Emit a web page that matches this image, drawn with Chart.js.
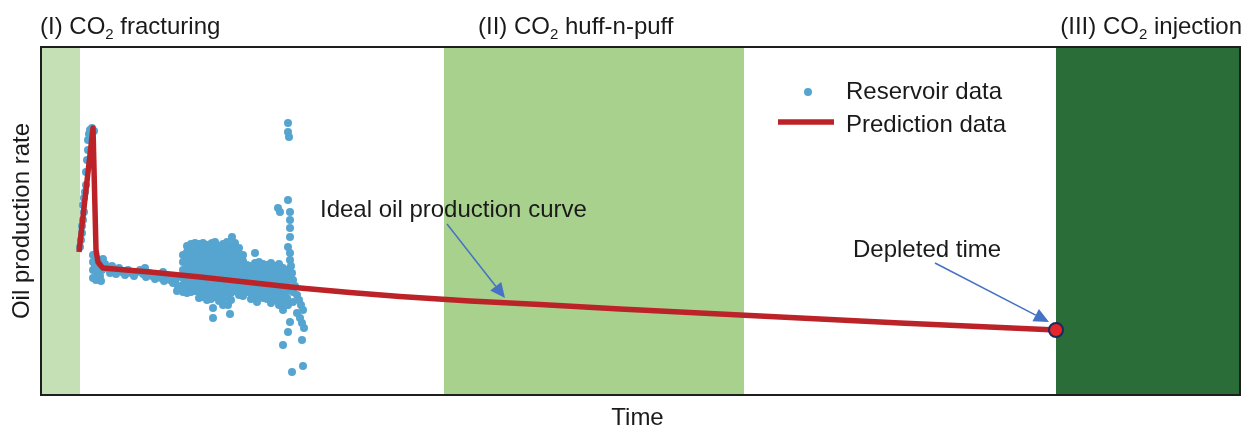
<!DOCTYPE html>
<html><head><meta charset="utf-8">
<script src="https://cdn.jsdelivr.net/npm/chart.js@4.4.1/dist/chart.umd.min.js"></script>
<style>html,body{margin:0;padding:0;background:#fff;}canvas{display:block;}</style>
</head><body>
<canvas id="c" width="1252" height="430"></canvas>
<script>
// ---- data (time units 0..1199, rate units 0..348) ----
const stageNames = [["(I) CO","2"," fracturing"],["(II) CO","2"," huff-n-puff"],["(III) CO","2"," injection"]];
const stageBands = [[0,39],[403,703],[1015,1199]];
const stageColors = ['#c5e0b4','#a9d18e','#2a6d39'];

const predictionTime = [38,52,55,57,60,62,85,109,134,159,209,259,309,359,429,499,579,659,759,859,937,1015];
const predictionRate = [143,267,145,133,129,127,125,123,120.5,118,112.5,107,102.5,98.5,94,90.5,86,82,77,72,68.5,65];

const depletedPoint = [1015,65];

const earlyPoints = [
 [39,148],[40,155],[41,162],[41,169],[42,175],[43,183],[42,190],[43,197],[44,203],[45,210],[45,223],[46,235],[47,245],[47,255],[48,261],[49,265],[51,267],[53,264],
 [52,140],[52,133],[52,125],[52,117],[54,129],[56,123],[58,133],[62,136],[64,131],[61,125],[59,119],[55,115],[60,114],
 [67,127],[69,122],[71,129],[72,125],[75,121],[78,127],[81,123],[84,120],[87,125],[90,122],[93,119],[96,123],[99,125],[102,121],[104,127],[105,118],[108,122],[111,119],[114,116],[117,120],[120,117],[122,123],[123,114],[126,118],[129,115],[132,112],[135,116],[137,109],[139,105],[136,104],[141,107]
];

const clusterColumns = [
 [142,[140,133,125,117,110,103]],
 [146,[149,143,136,129,122,115,108,102]],
 [150,[151,145,138,131,124,117,110,103]],
 [154,[152,146,139,132,125,118,111,104]],
 [158,[151,145,138,131,124,117,110,103,97]],
 [162,[152,146,139,132,125,118,111,104,98]],
 [166,[150,144,137,130,123,116,109,102,95]],
 [170,[151,145,138,131,124,117,110,103,96]],
 [174,[153,147,140,133,126,119,112,105,98]],
 [178,[149,143,136,129,122,115,108,101,94]],
 [182,[151,145,138,131,124,117,110,103,96,90]],
 [186,[153,147,140,133,126,119,112,105,98]],
 [190,[150,144,137,130,123,116,109,102,95]],
 [194,[152,146,139,132,125,118,111,104]],
 [198,[147,141,134,127,120,113,106,100]],
 [202,[140,134,127,120,113,106,99]],
 [206,[130,124,117,110,103]],
 [210,[129,123,116,109,102,96]],
 [214,[132,125,118,111,104,98]],
 [218,[133,127,120,113,106,99]],
 [222,[131,125,118,111,104,97]],
 [226,[130,124,117,110,103,96]],
 [230,[132,126,119,112,105,98,92]],
 [234,[129,123,116,109,102,95]],
 [238,[131,125,118,111,104,97,90]],
 [242,[127,120,113,106,99,92,85]],
 [246,[125,118,111,104,97,90]]
];

const spikePoints = [
 [247,272],[247,263],[248,258],[247,195],[237,187],[239,183],[249,183],[249,175],[249,167],[249,158],[247,148],[249,142],[249,135],[250,129],[251,122],[252,115],[254,109],[252,103],[256,100],[258,95],[260,90],[262,85],[256,82],[259,77],[261,72],[263,67],[249,73],[247,63],[261,55],[242,50],[262,29],[251,23],[252,93],[247,90],
 [172,87],[172,77],[187,90],[189,81],[216,93],[214,142],[191,158],[171,152]
];

// ---- build datasets ----
const reservoir = [];
earlyPoints.forEach(p => reservoir.push({x:p[0], y:p[1]}));
clusterColumns.forEach(c => c[1].forEach(v => reservoir.push({x:c[0], y:v})));
spikePoints.forEach(p => reservoir.push({x:p[0], y:p[1]}));
const prediction = predictionTime.map((t,i) => ({x:t, y:predictionRate[i]}));

const FONT = '"Liberation Sans", Arial, Helvetica, sans-serif';
const FS = 24;
const TXT = '#1a1a1a';
const BLUE = '#55a5d0';
const RED = '#bb2328';
const ARROW = '#4472c4';

function drawCO2(ctx, parts, x, y, align, size){
  ctx.font = size + 'px ' + FONT;
  const w1 = ctx.measureText(parts[0]).width;
  const w3 = ctx.measureText(parts[2]).width;
  ctx.font = Math.round(size*0.62) + 'px ' + FONT;
  const w2 = ctx.measureText(parts[1]).width;
  const total = w1 + w2 + w3;
  let sx = align === 'right' ? x - total : x;
  ctx.textAlign = 'left';
  ctx.textBaseline = 'alphabetic';
  ctx.fillStyle = TXT;
  ctx.font = size + 'px ' + FONT;
  ctx.fillText(parts[0], sx, y);
  ctx.font = Math.round(size*0.62) + 'px ' + FONT;
  ctx.fillText(parts[1], sx + w1, y + size*0.2);
  ctx.font = size + 'px ' + FONT;
  ctx.fillText(parts[2], sx + w1 + w2, y);
}

function arrow(ctx, x1, y1, x2, y2){
  const ang = Math.atan2(y2-y1, x2-x1);
  const L = 15, H = 7;
  const bx = x2 - L*Math.cos(ang), by = y2 - L*Math.sin(ang);
  ctx.strokeStyle = ARROW; ctx.fillStyle = ARROW; ctx.lineWidth = 1.5;
  ctx.beginPath(); ctx.moveTo(x1,y1); ctx.lineTo(bx,by); ctx.stroke();
  ctx.beginPath();
  ctx.moveTo(x2,y2);
  ctx.lineTo(bx + H*Math.sin(ang), by - H*Math.cos(ang));
  ctx.lineTo(bx - H*Math.sin(ang), by + H*Math.cos(ang));
  ctx.closePath(); ctx.fill();
}

const decor = {
  id:'decor',
  beforeDatasetsDraw(chart){
    const {ctx, chartArea:a, scales:{x,y}} = chart;
    ctx.save();
    stageBands.forEach((b,i) => {
      const x1 = x.getPixelForValue(b[0]), x2 = x.getPixelForValue(b[1]);
      ctx.fillStyle = stageColors[i];
      ctx.fillRect(x1, a.top, x2-x1, a.bottom-a.top);
    });
    ctx.restore();
  },
  afterDatasetsDraw(chart){
    const {ctx, chartArea:a, scales:{x,y}} = chart;
    ctx.save();
    ctx.fillStyle = TXT; ctx.font = FS + 'px ' + FONT; ctx.textAlign='left'; ctx.textBaseline='alphabetic';
    ctx.fillText('Ideal oil production curve', x.getPixelForValue(279), y.getPixelForValue(178));
    ctx.fillText('Depleted time', x.getPixelForValue(812), y.getPixelForValue(138));
    arrow(ctx, x.getPixelForValue(406), y.getPixelForValue(171), x.getPixelForValue(464), y.getPixelForValue(97));
    arrow(ctx, x.getPixelForValue(894), y.getPixelForValue(132), x.getPixelForValue(1008), y.getPixelForValue(73));
    // legend
    ctx.fillStyle = BLUE;
    ctx.beginPath(); ctx.arc(808, 92, 4, 0, Math.PI*2); ctx.fill();
    ctx.strokeStyle = RED; ctx.lineWidth = 5.5; ctx.lineCap='butt';
    ctx.beginPath(); ctx.moveTo(778, 122); ctx.lineTo(834, 122); ctx.stroke();
    ctx.fillStyle = TXT; ctx.font = FS + 'px ' + FONT;
    ctx.fillText('Reservoir data', 846, 99);
    ctx.fillText('Prediction data', 846, 132);
    ctx.restore();
  },
  afterDraw(chart){
    const {ctx, chartArea:a} = chart;
    ctx.save();
    ctx.strokeStyle = '#1e1e1e'; ctx.lineWidth = 2;
    ctx.strokeRect(a.left, a.top, a.right-a.left, a.bottom-a.top);
    drawCO2(ctx, stageNames[0], 40, 34, 'left', FS);
    drawCO2(ctx, stageNames[1], 478, 34, 'left', FS);
    drawCO2(ctx, stageNames[2], 1242, 34, 'right', FS);
    ctx.fillStyle = TXT; ctx.font = FS + 'px ' + FONT;
    ctx.textAlign = 'center'; ctx.textBaseline = 'middle';
    ctx.fillText('Time', (a.left+a.right)/2 - 3, 418);
    ctx.translate(22, 221); ctx.rotate(-Math.PI/2);
    ctx.fillText('Oil production rate', 0, 0);
    ctx.restore();
  }
};

new Chart(document.getElementById('c'), {
  type:'scatter',
  data:{datasets:[
    {label:'Depleted time', data:[{x:depletedPoint[0], y:depletedPoint[1]}], pointRadius:7, pointBackgroundColor:'#e5262a', pointBorderColor:'#1c2a5e', pointBorderWidth:2, order:0, clip:false},
    {label:'Prediction data', data:prediction, showLine:true, borderColor:RED, borderWidth:5.5, pointRadius:0, tension:0, order:1, borderJoinStyle:'round'},
    {label:'Reservoir data', data:reservoir, pointRadius:4, pointBackgroundColor:BLUE, pointBorderWidth:0, order:2}
  ]},
  options:{
    responsive:false, animation:false, devicePixelRatio:1,
    layout:{padding:{left:41, top:47, right:12, bottom:35}},
    plugins:{legend:{display:false}, tooltip:{enabled:false}},
    events:[],
    scales:{
      x:{type:'linear', min:0, max:1199, display:false},
      y:{type:'linear', min:0, max:348, display:false}
    }
  },
  plugins:[decor]
});
</script>
</body></html>
